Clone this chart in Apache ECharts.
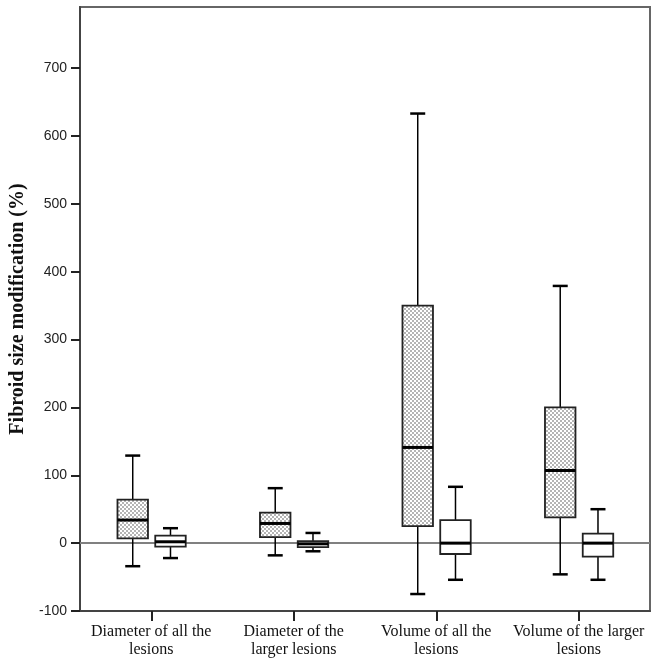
<!DOCTYPE html>
<html>
<head>
<meta charset="UTF-8">
<title>Fibroid size modification</title>
<style>
    html,body{margin:0;padding:0;background:#fff;}
    #main{width:658px;height:665px;}
</style>
<script src="https://cdn.jsdelivr.net/npm/echarts@6/dist/echarts.min.js"></script>
</head>
<body>
<div id="main"></div>
<script>
    var categories = ['Diameter of all the\nlesions', 'Diameter of the\nlarger lesions', 'Volume of all the\nlesions', 'Volume of the larger\nlesions'];
    // [min, Q1, median, Q3, max]
    var dottedStats = [[-34, 7, 34, 64, 129], [-18, 9, 29, 45, 81], [-75, 25, 141, 350, 633], [-46, 38, 107, 200, 379]];
    var plainStats = [[-22, -5, 2, 11, 22], [-12, -6, -1, 3, 15], [-54, -16, 0, 34, 83], [-54, -20, 0, 14, 50]];
    var yTicks = [-100, 0, 100, 200, 300, 400, 500, 600, 700];

    // dotted fill
    var tile = document.createElement('canvas');
    tile.width = 4; tile.height = 4;
    var tc = tile.getContext('2d');
    tc.fillStyle = '#fff';
    tc.fillRect(0, 0, 4, 4);
    tc.fillStyle = '#b4b4b4';
    tc.fillRect(0, 0, 2, 2);
    tc.fillRect(2, 2, 2, 2);
    var dots = {image: tile, repeat: 'repeat'};

    function boxItem(offset, fill) {
        return function (params, api) {
            var i = api.value(0);
            var band = api.size([1, 0])[0];
            var cx = api.coord([i, 0])[0] + offset * band;
            var y = [1, 2, 3, 4, 5].map(function (k) { return api.coord([i, api.value(k)])[1]; });
            var hw = band * 0.107, cap = 7.5;
            var ln = {stroke: '#000', lineWidth: 1.5};
            return {
                type: 'group',
                children: [
                    {type: 'line', shape: {x1: cx, y1: y[4], x2: cx, y2: y[3]}, style: ln},
                    {type: 'line', shape: {x1: cx, y1: y[1], x2: cx, y2: y[0]}, style: ln},
                    {type: 'line', shape: {x1: cx - cap, y1: y[4], x2: cx + cap, y2: y[4]}, style: {stroke: '#000', lineWidth: 2.5}},
                    {type: 'line', shape: {x1: cx - cap, y1: y[0], x2: cx + cap, y2: y[0]}, style: {stroke: '#000', lineWidth: 2.5}},
                    {type: 'rect', shape: {x: cx - hw, y: y[3], width: 2 * hw, height: y[1] - y[3]},
                        style: {fill: fill, stroke: '#222', lineWidth: 1.8}},
                    {type: 'line', shape: {x1: cx - hw, y1: y[2], x2: cx + hw, y2: y[2]}, style: {stroke: '#000', lineWidth: 3}}
                ]
            };
        };
    }

    var myChart = echarts.init(document.getElementById('main'));
    var option = {
        animation: false,
        grid: {left: 76, right: 8, top: 7, bottom: 54, show: true, borderColor: '#666', borderWidth: 2},
        xAxis: {
            type: 'category',
            data: categories,
            axisLine: {onZero: false, lineStyle: {color: '#444', width: 2}},
            axisTick: {show: true, alignWithLabel: true, length: 10, lineStyle: {color: '#222', width: 2}},
            axisLabel: {margin: 12, color: '#111', fontFamily: 'Liberation Serif', fontSize: 16, lineHeight: 18, interval: 0}
        },
        yAxis: {
            type: 'value',
            min: -100,
            max: 790,
            interval: 100,
            name: 'Fibroid size modification (%)',
            nameLocation: 'middle',
            nameGap: 52,
            nameTextStyle: {fontFamily: 'Liberation Serif', fontWeight: 'bold', fontSize: 20, color: '#111'},
            splitLine: {show: false},
            axisLine: {show: true, lineStyle: {color: '#444', width: 2}},
            axisTick: {show: true, customValues: yTicks, length: 9, lineStyle: {color: '#222', width: 2}},
            axisLabel: {
                customValues: yTicks,
                margin: 13, color: '#222', fontFamily: 'Liberation Sans', fontSize: 14
            }
        },
        series: [
            {
                type: 'custom',
                renderItem: boxItem(-0.13, dots),
                encode: {x: 0, y: [1, 2, 3, 4, 5]},
                data: dottedStats.map(function (s, i) { return [i].concat(s); }),
                markLine: {
                    silent: true, symbol: 'none', label: {show: false}, z: 1,
                    lineStyle: {color: '#808080', width: 2, type: 'solid'},
                    data: [{yAxis: 0}]
                },
                z: 3
            },
            {
                type: 'custom',
                renderItem: boxItem(0.135, '#fff'),
                encode: {x: 0, y: [1, 2, 3, 4, 5]},
                data: plainStats.map(function (s, i) { return [i].concat(s); }),
                z: 3
            }
        ]
    };
    myChart.setOption(option);
</script>
</body>
</html>
